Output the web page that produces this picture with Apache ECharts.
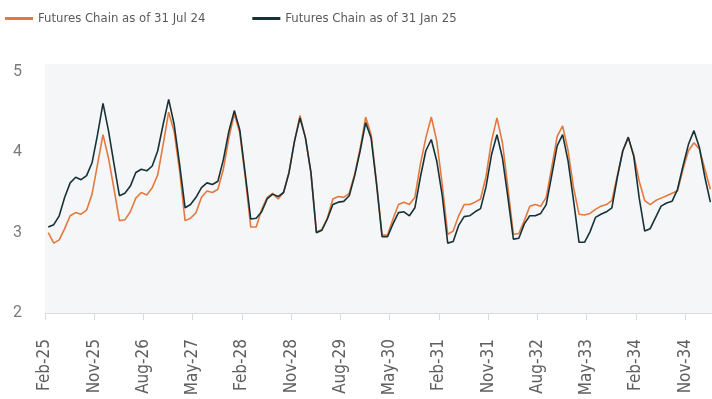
<!DOCTYPE html>
<html>
<head>
<meta charset="utf-8">
<script src="https://cdn.jsdelivr.net/npm/echarts@6/dist/echarts.min.js"></script>
<style>
  html, body { margin: 0; padding: 0; background: #ffffff; }
  #chart { width: 712px; height: 399px; }
</style>
</head>
<body>
<div id="chart"></div>
<script>
// Axis tick labels (every 9 months, starting Feb-25 = month 0)
const tickLabels = ['Feb-25','Nov-25','Aug-26','May-27','Feb-28','Nov-28','Aug-29','May-30','Feb-31','Nov-31','Aug-32','May-33','Feb-34','Nov-34'];
const tickStep = 9;

// Series names
const seriesNames = ['Futures Chain as of 31 Jul 24', 'Futures Chain as of 31 Jan 25'];

// Monthly contracts from Mar-25 (month 1) onwards
const firstContractMonth = 1;

// Futures chain as of 31 Jul 24
const chainJul24 = [
  3.00,2.87,2.91,3.05,3.21,3.25,3.23,3.28,3.48,3.85,4.22,3.93,
  3.55,3.15,3.16,3.26,3.43,3.50,3.47,3.56,3.72,4.10,4.50,4.26,
  3.77,3.15,3.18,3.25,3.44,3.52,3.50,3.54,3.79,4.18,4.48,4.24,
  3.69,3.07,3.07,3.29,3.44,3.49,3.42,3.50,3.75,4.14,4.46,4.18,
  3.75,3.01,3.04,3.18,3.42,3.45,3.44,3.49,3.73,4.05,4.44,4.22,
  3.62,2.97,2.97,3.17,3.35,3.38,3.35,3.44,3.85,4.18,4.44,4.14,
  3.60,2.98,3.02,3.21,3.35,3.35,3.38,3.42,3.70,4.14,4.43,4.12,
  3.56,2.98,2.99,3.15,3.33,3.35,3.33,3.44,3.81,4.20,4.33,4.02,
  3.56,3.23,3.22,3.24,3.29,3.33,3.35,3.40,3.71,4.02,4.18,3.97,
  3.64,3.40,3.35,3.40,3.43,3.46,3.49,3.52,3.79,4.02,4.12,4.04,
  3.79,3.54
];

// Futures chain as of 31 Jan 25
const chainJan25 = [
  3.07,3.10,3.21,3.44,3.62,3.69,3.66,3.71,3.87,4.22,4.61,4.27,
  3.86,3.46,3.49,3.58,3.75,3.79,3.77,3.83,4.02,4.35,4.66,4.35,
  3.85,3.31,3.35,3.44,3.56,3.62,3.60,3.64,3.91,4.26,4.52,4.28,
  3.73,3.17,3.18,3.26,3.42,3.48,3.45,3.50,3.75,4.14,4.43,4.18,
  3.75,3.00,3.03,3.17,3.35,3.38,3.39,3.46,3.71,4.02,4.37,4.18,
  3.60,2.95,2.95,3.11,3.25,3.26,3.21,3.31,3.69,4.02,4.16,3.89,
  3.46,2.87,2.89,3.09,3.20,3.21,3.26,3.30,3.57,3.97,4.22,3.93,
  3.44,2.92,2.93,3.11,3.21,3.21,3.24,3.35,3.71,4.08,4.22,3.89,
  3.40,2.88,2.88,3.01,3.19,3.23,3.26,3.31,3.69,4.02,4.19,3.95,
  3.43,3.02,3.05,3.19,3.33,3.37,3.39,3.54,3.83,4.10,4.27,4.06,
  3.69,3.38
];

const yTicks = [2, 3, 4, 5];

// Layout / style parameters
const plotShift = -0.4;     // contracts plotted near expiry, late in preceding month
const xMax = 121.9;
const colors = ['#E4793F', '#173236'];
const fontText = '"Liberation Sans Narrow", "DejaVu Sans Condensed", Roboto, sans-serif';

function toPoints(arr) {
  return arr.map((v, i) => [firstContractMonth + i + plotShift, v]);
}

const xTickValues = tickLabels.map((_, i) => i * tickStep);

const chart = echarts.init(document.getElementById('chart'), null, { renderer: 'canvas' });
chart.setOption({
  animation: false,
  backgroundColor: '#ffffff',
  color: colors,
  legend: {
    data: seriesNames,
    left: 5,
    top: 12,
    padding: 0,
    icon: 'rect',
    itemWidth: 28,
    itemHeight: 3,
    itemGap: 47,
    textStyle: { color: '#595959', fontSize: 13, fontFamily: fontText }
  },
  grid: {
    left: 45, right: 0, top: 64, bottom: 86,
    show: true, backgroundColor: '#F4F6F7', borderWidth: 0
  },
  xAxis: {
    type: 'value',
    min: 0,
    max: xMax,
    interval: tickStep,
    splitLine: { show: false },
    axisLine: { show: true, lineStyle: { color: '#D9DCDE', width: 1 } },
    axisTick: { show: true, length: 7, lineStyle: { color: '#D9DCDE' }, customValues: xTickValues },
    axisLabel: {
      customValues: xTickValues,
      rotate: 90,
      margin: 26,
      color: '#606060',
      fontSize: 17,
      fontFamily: fontText,
      formatter: function (v) {
        const idx = Math.round(v / tickStep);
        return (Math.abs(v - idx * tickStep) < 1e-6 && tickLabels[idx]) ? tickLabels[idx] : '';
      }
    }
  },
  yAxis: {
    type: 'value',
    min: 2,
    max: 5.1,
    interval: 1,
    splitLine: { show: false },
    axisLine: { show: false },
    axisTick: { show: false },
    axisLabel: {
      customValues: yTicks,
      margin: 23,
      color: '#7A7A7A',
      fontSize: 16,
      fontFamily: 'Roboto, sans-serif',
      formatter: function (v) { return yTicks.indexOf(v) >= 0 ? String(v) : ''; }
    }
  },
  series: [
    {
      name: seriesNames[0],
      type: 'line',
      data: toPoints(chainJul24),
      symbol: 'none',
      lineStyle: { width: 1.6, color: colors[0] },
      z: 2
    },
    {
      name: seriesNames[1],
      type: 'line',
      data: toPoints(chainJan25),
      symbol: 'none',
      lineStyle: { width: 1.6, color: colors[1] },
      z: 3
    }
  ]
});
</script>
</body>
</html>
